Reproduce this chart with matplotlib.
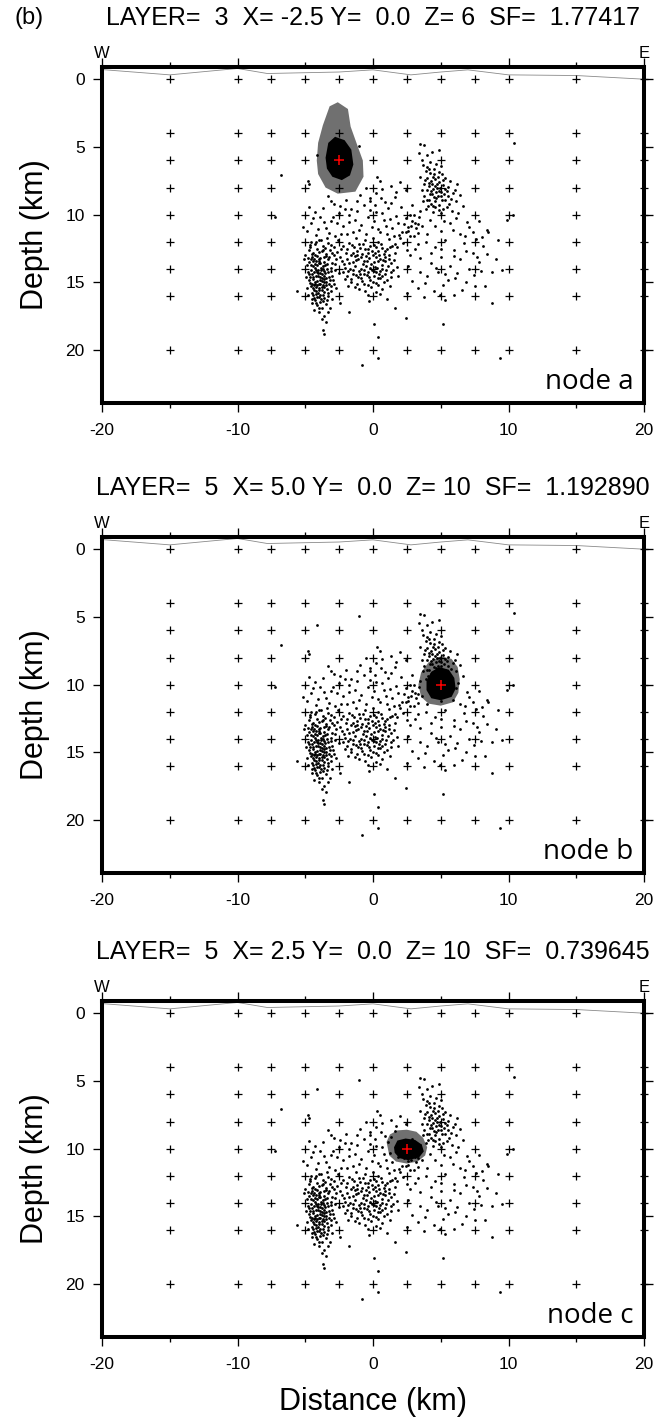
import matplotlib
matplotlib.use('Agg')
import matplotlib.pyplot as plt
import numpy as np

plt.rcParams['font.family'] = ['Liberation Sans', 'DejaVu Sans']
plt.rcParams['axes.unicode_minus'] = False

# grid nodes of the inversion (km along profile, km depth)
grid_x = [-15, -10, -7.5, -5, -2.5, 0, 2.5, 5, 7.5, 10, 15, 20]
grid_z = [0, 4, 6, 8, 10, 12, 14, 16, 20]

# surface topography along the profile (negative = above sea level)
topo_x = [-20, -15, -10, -7.8, -2.5, 0, 2.8, 5, 7, 10, 15, 20]
topo_z = [-0.71, -0.32, -0.79, -0.42, -0.53, -0.69, -0.32, -0.53, -0.69, -0.32, -0.27, 0.0]

# panel parameters
layers = [3, 5, 5]
node_x = [-2.5, 5.0, 2.5]
node_z = [6, 10, 10]
sf_vals = ['1.77417', '1.192890', '0.739645']
node_names = ['node a', 'node b', 'node c']

# spread-function contours (outer = grey, inner = black)
outer_a = [(-2.6, 1.7), (-3.2, 2.0), (-3.7, 3.4), (-4.05, 4.7), (-4.15, 6.0), (-4.05, 7.0),
           (-3.5, 8.0), (-2.6, 8.45), (-1.3, 8.3), (-0.7, 7.2), (-0.75, 6.0), (-1.15, 4.9),
           (-1.65, 3.5), (-1.85, 2.2)]
inner_a = [(-2.8, 4.25), (-3.3, 4.7), (-3.5, 5.8), (-3.4, 6.6), (-3.0, 7.2), (-2.3, 7.45),
           (-1.7, 7.1), (-1.45, 6.3), (-1.6, 5.2), (-2.1, 4.5)]
outer_b = [(5.0, 7.9), (5.8, 8.1), (6.25, 8.7), (6.4, 9.6), (6.3, 10.6), (5.9, 11.3),
           (5.0, 11.55), (4.1, 11.4), (3.55, 10.9), (3.35, 10.0), (3.55, 9.1), (4.1, 8.35)]
inner_b = [(4.9, 8.7), (5.6, 8.9), (6.0, 9.5), (6.1, 10.3), (5.8, 10.9), (5.0, 11.15),
           (4.3, 11.0), (3.95, 10.4), (3.95, 9.7), (4.3, 9.05)]
outer_c = [(1.0, 9.5), (1.25, 8.95), (1.8, 8.65), (2.5, 8.6), (3.2, 8.75), (3.7, 9.2),
           (4.0, 9.9), (3.85, 10.5), (3.3, 10.95), (2.5, 11.1), (1.7, 10.95), (1.2, 10.5)]
inner_c = [(1.55, 9.9), (1.8, 9.4), (2.4, 9.25), (3.1, 9.35), (3.6, 9.7), (3.75, 10.2),
           (3.4, 10.65), (2.6, 10.85), (1.95, 10.7), (1.6, 10.3)]
contours = [(outer_a, inner_a), (outer_b, inner_b), (outer_c, inner_c)]

# relocated hypocentres (x km, depth km)
quakes_west = [
    (-4.6, 12.0), (-4.3, 12.2), (-4.0, 11.9), (-3.7, 12.3), (-3.3, 12.1), (-2.9, 12.4),
    (-4.7, 12.6), (-4.4, 12.8), (-4.1, 12.5), (-3.8, 12.7), (-3.5, 12.9), (-3.2, 12.6), (-2.9, 13.0),
    (-4.8, 13.2), (-4.5, 13.1), (-4.2, 13.4), (-3.9, 13.2), (-3.6, 13.5), (-3.3, 13.3), (-3.0, 13.6),
    (-4.6, 13.7), (-4.3, 13.9), (-4.0, 13.6), (-3.7, 13.8), (-3.4, 14.0), (-3.1, 13.9),
    (-4.8, 14.2), (-4.5, 14.4), (-4.2, 14.1), (-3.9, 14.3), (-3.6, 14.5), (-3.3, 14.2), (-3.0, 14.5),
    (-4.7, 14.8), (-4.4, 14.6), (-4.1, 14.9), (-3.8, 14.7), (-3.5, 15.0), (-3.2, 14.8),
    (-4.6, 15.3), (-4.3, 15.1), (-4.0, 15.4), (-3.7, 15.2), (-3.4, 15.5), (-3.1, 15.3),
    (-4.5, 15.8), (-4.2, 15.6), (-3.9, 15.9), (-3.6, 15.7), (-3.3, 16.0),
    (-4.3, 16.3), (-4.0, 16.1), (-3.7, 16.4), (-4.1, 16.7), (-3.8, 16.9), (-3.5, 16.6),
    (-4.45, 13.45), (-4.15, 13.75), (-3.85, 13.95), (-3.55, 13.75), (-4.35, 14.25), (-4.05, 14.55),
    (-3.75, 14.35), (-3.45, 14.65), (-4.25, 14.95), (-3.95, 15.15), (-3.65, 14.95), (-4.35, 15.55),
    (-4.05, 15.75), (-3.75, 15.55), (-4.15, 16.05), (-3.85, 16.25), (-4.55, 14.05), (-4.65, 15.05),
    (-4.25, 12.95), (-3.95, 12.75), (-3.65, 13.15), (-4.35, 13.25), (-3.45, 13.05), (-4.45, 15.95),
    (-3.35, 15.75), (-4.85, 13.75), (-4.9, 15.4), (-2.8, 14.1), (-2.7, 13.3), (-2.9, 15.1),
    (-3.0, 16.2), (-4.0, 17.2), (-3.6, 17.5), (-4.5, 16.5), (-3.2, 16.9), (-4.05, 14.05),
    (-3.9, 14.85), (-4.2, 15.35), (-3.8, 15.35), (-4.1, 13.05), (-3.6, 14.15), (-4.4, 14.75),
    (-4.62, 12.35), (-4.18, 12.05), (-3.52, 12.45), (-3.08, 12.25), (-4.52, 12.92), (-4.02, 13.28),
    (-3.72, 12.58), (-3.22, 13.12), (-4.72, 13.48), (-3.88, 13.58), (-3.38, 13.62), (-3.12, 14.18),
    (-4.42, 13.82), (-4.08, 14.32), (-3.82, 14.12), (-3.52, 14.32), (-4.62, 14.62), (-4.22, 14.52),
    (-3.92, 14.62), (-3.62, 14.72), (-3.28, 14.58), (-4.52, 15.12), (-4.12, 15.18), (-3.88, 15.08),
    (-3.58, 15.32), (-3.22, 15.12), (-4.42, 15.42), (-4.18, 15.82), (-3.98, 15.58), (-3.68, 15.92),
    (-4.32, 16.12), (-3.92, 16.42), (-4.22, 16.52), (-3.62, 16.18), (-4.72, 14.38), (-4.58, 13.28),
    (-3.02, 12.82), (-2.82, 13.62), (-2.92, 14.82), (-3.12, 15.62), (-4.82, 15.92), (-4.02, 16.92),
    (-3.42, 16.32), (-4.28, 13.62), (-3.68, 14.02), (-4.12, 14.22), (-3.78, 14.92), (-4.38, 15.22),
    (-3.48, 15.22), (-3.98, 13.42), (-4.48, 16.22), (-3.32, 17.22), (-3.78, 17.72), (-4.32, 17.02),
    (-4.68, 12.22), (-2.62, 12.72), (-2.52, 14.32), (-2.72, 15.42), (-4.95, 14.62), (-5.1, 13.3),
]
quakes_central = [
    (-2.2, 12.3), (-1.8, 12.1), (-1.4, 12.4), (-1.0, 12.2), (-0.6, 12.5), (-0.2, 12.3), (0.2, 12.4),
    (0.6, 12.2), (1.0, 12.5), (1.4, 12.3),
    (-2.0, 12.8), (-1.6, 13.0), (-1.2, 12.7), (-0.8, 12.9), (-0.4, 12.8), (0.0, 13.0), (0.4, 12.7),
    (0.8, 12.9), (1.2, 13.0), (1.6, 12.8),
    (-2.3, 13.4), (-1.9, 13.3), (-1.5, 13.5), (-1.1, 13.3), (-0.7, 13.4), (-0.3, 13.2), (0.1, 13.5),
    (0.5, 13.3), (0.9, 13.4), (1.3, 13.6),
    (-2.1, 13.9), (-1.7, 14.0), (-1.3, 13.8), (-0.9, 14.0), (-0.5, 13.8), (-0.1, 14.1), (0.3, 13.9),
    (0.7, 14.0), (1.1, 13.8), (1.5, 14.1),
    (-1.9, 14.5), (-1.5, 14.4), (-1.1, 14.6), (-0.7, 14.4), (-0.3, 14.6), (0.1, 14.5), (0.5, 14.7),
    (0.9, 14.4), (1.3, 14.6),
    (-1.6, 15.0), (-1.2, 15.1), (-0.8, 14.9), (-0.4, 15.2), (0.0, 15.0), (0.4, 15.2), (0.8, 15.0),
    (-0.6, 15.6), (0.2, 15.7), (-1.0, 15.5), (0.7, 15.5),
    (-0.55, 13.05), (-0.15, 13.65), (0.25, 13.15), (0.65, 13.75), (-0.35, 14.25), (0.05, 14.15),
    (0.45, 14.35), (-0.75, 13.65), (-0.95, 14.35), (0.85, 13.15), (-1.35, 13.05), (-1.45, 14.05),
    (0.15, 12.85), (-0.25, 14.85), (0.35, 14.65),
    (-2.35, 12.55), (-1.95, 12.55), (-1.55, 12.25), (-1.15, 12.95), (-0.75, 12.15), (-0.35, 12.55),
    (0.05, 12.25), (0.45, 12.95), (0.85, 12.65), (1.25, 12.35), (1.65, 12.15), (-2.45, 13.15),
    (-2.15, 13.65), (-1.75, 13.55), (-1.25, 13.35), (-0.85, 13.15), (-0.45, 13.45), (0.35, 13.45),
    (0.75, 13.35), (1.15, 13.25), (1.55, 13.35), (-2.25, 14.25), (-1.85, 14.15), (-1.05, 14.15),
    (-0.65, 14.05), (-0.25, 13.95), (0.15, 13.85), (0.55, 14.15), (0.95, 14.05), (1.35, 14.25),
    (1.75, 13.85), (-1.65, 14.75), (-1.25, 14.45), (-0.85, 14.65), (-0.45, 14.45), (0.25, 14.25),
    (0.65, 14.55), (1.05, 14.85), (-1.35, 15.35), (-0.65, 15.15), (-0.15, 15.35), (0.25, 15.05),
    (0.55, 15.85), (-0.35, 15.95), (1.25, 15.25), (-1.85, 15.25), (-2.05, 14.75), (1.85, 14.55),
    (-0.05, 12.65), (-0.95, 12.45), (0.65, 12.45), (-1.45, 12.85),
]
quakes_middle = [
    (-4.9, 11.2), (-4.6, 10.6), (-4.2, 11.5), (-3.9, 10.2), (-3.5, 11.0), (-3.1, 10.5), (-2.8, 11.6),
    (-2.5, 9.9), (-2.2, 10.8), (-1.9, 11.4), (-1.6, 9.6), (-1.3, 10.4), (-1.0, 11.1), (-0.7, 9.3),
    (-0.4, 10.2), (-0.1, 10.9), (0.2, 9.8), (0.5, 11.3), (0.8, 10.4), (1.1, 9.5), (1.4, 11.0),
    (1.7, 10.1), (2.0, 11.7), (2.3, 10.7), (2.6, 11.2), (2.9, 10.5), (3.2, 11.0), (3.4, 10.2),
    (-3.7, 9.5), (-2.9, 9.2), (-0.2, 9.0), (0.9, 9.1), (-4.3, 9.8), (-1.8, 10.0), (0.0, 11.7),
    (-0.6, 11.9), (1.2, 11.8), (-2.6, 11.9), (-3.4, 11.7), (2.7, 10.0), (3.0, 11.6), (2.2, 12.1),
    (1.8, 12.4), (2.5, 12.6), (3.3, 12.2), (-1.2, 9.0), (-2.0, 8.9), (-3.1, 9.0), (0.6, 8.8),
    (1.6, 8.7), (2.8, 10.8), (3.1, 10.6), (2.4, 11.3), (1.9, 11.5), (3.3, 10.7), (2.6, 10.9),
    (-0.5, 8.0), (0.2, 8.4), (0.7, 8.1), (-0.2, 8.8), (0.5, 7.5), (1.3, 7.9), (2.0, 7.6),
    (2.4, 8.2), (1.7, 8.3),
    (-4.45, 10.25), (-4.05, 11.05), (-3.65, 10.55), (-3.25, 11.35), (-2.95, 10.15), (-2.65, 10.65),
    (-2.35, 11.45), (-2.05, 9.55), (-1.75, 10.55), (-1.45, 11.25), (-1.15, 9.75), (-0.85, 10.75),
    (-0.55, 11.45), (-0.25, 9.65), (0.05, 10.45), (0.35, 11.05), (0.65, 9.85), (0.95, 10.85),
    (1.25, 10.35), (1.55, 11.55), (1.85, 10.65), (2.15, 11.25), (2.45, 10.25), (2.75, 11.55),
    (3.05, 10.05), (3.35, 11.35), (-3.85, 11.85), (-1.25, 11.75), (0.35, 12.05), (1.05, 11.45),
    (-2.45, 9.35), (-0.95, 8.55), (0.15, 9.25), (1.35, 9.15), (2.05, 9.45), (2.85, 9.25),
    (-4.75, 9.45), (-3.35, 8.65),
]
quakes_east = [
    (3.5, 4.8), (3.8, 4.85), (3.4, 5.45), (4.0, 5.6), (4.9, 5.2), (4.2, 6.1), (3.7, 6.3),
    (3.9, 6.8), (4.2, 6.9), (4.5, 7.0), (4.8, 7.2), (5.1, 7.0), (4.0, 7.3), (4.3, 7.5), (4.6, 7.4),
    (4.9, 7.6), (5.2, 7.8), (3.8, 7.7), (4.1, 7.9), (4.4, 8.1), (4.7, 8.0), (5.0, 8.3), (5.3, 8.1),
    (4.2, 8.5), (4.5, 8.7), (4.8, 8.6), (5.1, 8.9), (5.5, 8.6), (4.0, 8.9), (4.3, 9.2), (4.6, 9.4),
    (4.9, 9.3), (5.2, 9.6), (5.6, 9.2), (5.9, 8.4), (6.1, 9.0), (5.8, 9.7), (4.5, 6.6), (5.0, 6.4),
    (5.3, 7.3), (3.6, 8.2), (3.7, 9.0), (4.35, 7.75), (4.65, 8.35), (4.95, 8.05), (4.25, 8.25),
    (4.75, 7.75), (5.45, 8.25), (4.55, 9.0), (6.2, 7.7), (5.7, 7.5), (3.9, 9.6), (4.4, 9.8),
    (5.0, 9.9), (6.3, 9.9), (3.5, 9.7),
    (3.62, 5.95), (4.32, 5.35), (3.95, 6.45), (4.65, 6.25), (4.15, 6.65), (4.45, 7.25), (4.85, 6.85),
    (5.15, 7.45), (3.85, 7.45), (4.15, 7.65), (4.55, 7.85), (4.85, 8.25), (5.25, 8.45), (3.95, 8.15),
    (4.35, 8.45), (4.65, 8.75), (5.05, 8.65), (5.35, 8.95), (4.15, 8.95), (4.45, 9.35), (4.85, 9.65),
    (5.45, 9.45), (5.75, 8.85), (6.05, 8.15), (3.75, 8.65), (5.55, 7.95), (4.05, 9.35), (3.45, 7.25),
    (6.45, 8.55), (6.65, 9.35),
    (3.6, 10.8), (4.2, 10.4), (5.0, 11.2), (5.7, 10.6), (6.4, 11.4), (7.1, 10.9), (7.8, 10.5),
    (8.5, 11.3), (3.9, 12.0), (4.6, 12.4), (5.3, 11.9), (6.0, 12.6), (6.7, 12.1), (7.4, 12.8),
    (8.1, 12.3), (3.5, 13.2), (4.3, 13.6), (5.0, 13.1), (5.7, 13.8), (6.4, 13.3), (7.1, 14.0),
    (7.8, 13.5), (4.0, 14.5), (4.8, 14.2), (5.5, 14.8), (6.2, 14.3), (6.9, 15.0), (3.3, 15.4),
    (4.5, 15.6), (5.2, 15.2), (6.0, 15.9), (7.5, 15.3), (8.4, 12.9), (2.6, 13.8), (2.9, 14.9),
    (3.1, 12.5), (5.9, 11.1), (6.8, 11.6), (7.6, 11.8), (8.8, 14.2), (2.5, 15.8), (3.8, 16.1),
    (5.3, 16.3), (8.8, 16.5), (9.2, 11.9), (9.5, 14.1), (10.3, 10.0), (9.9, 10.4), (8.4, 11.1),
    (3.95, 11.45), (4.55, 10.85), (5.25, 10.45), (6.15, 10.25), (6.95, 10.55), (7.35, 11.25),
    (8.05, 11.65), (4.25, 12.85), (5.05, 12.55), (5.95, 13.05), (6.85, 12.65), (7.65, 13.15),
    (4.65, 13.95), (5.35, 14.35), (6.05, 14.65), (7.45, 14.45), (3.85, 15.05), (4.95, 15.95),
    (6.55, 15.55), (8.25, 15.25), (7.95, 14.15), (3.45, 14.25), (2.75, 12.95), (9.05, 13.25),
]
quakes_outliers = [
    (-6.8, 7.1), (-4.8, 7.5), (-4.7, 7.75), (-4.15, 5.6), (-1.0, 4.9), (0.3, 7.2), (-7.2, 10.2),
    (-5.6, 15.6), (-5.2, 10.9), (-5.0, 13.0), (-3.7, 18.5), (-3.6, 18.8), (-3.5, 17.9), (0.1, 18.1),
    (0.4, 19.0), (-0.8, 21.1), (0.4, 20.6), (2.4, 17.6), (1.6, 16.9), (5.2, 18.1), (9.4, 20.6),
    (10.4, 4.7), (-2.4, 16.5), (-1.8, 17.2), (1.0, 16.2), (-0.3, 16.4),
]
quakes = quakes_west + quakes_central + quakes_middle + quakes_east + quakes_outliers
quake_x = [q[0] for q in quakes]
quake_z = [q[1] for q in quakes]

W, H = 654, 1426
fig = plt.figure(figsize=(W / 100, H / 100), dpi=100)
fig.patch.set_facecolor('white')

ax_left, ax_width, ax_height = 102, 542, 336
panel_tops = [67, 537, 1001]

gx, gz = np.meshgrid(grid_x, grid_z)

for i, top in enumerate(panel_tops):
    ax = fig.add_axes([ax_left / W, 1 - (top + ax_height) / H, ax_width / W, ax_height / H])
    ax.set_xlim(-20, 20)
    ax.set_ylim(23.9, -0.9)

    outer, inner = contours[i]
    ax.fill([p[0] for p in outer], [p[1] for p in outer], color='#707070', lw=0, zorder=1)
    ax.fill([p[0] for p in inner], [p[1] for p in inner], color='black', lw=0, zorder=1.5)

    ax.plot(topo_x, topo_z, color='#8a8a8a', lw=0.6, zorder=2)
    ax.plot(quake_x, quake_z, 'o', ms=2.0, mew=0, color='black', zorder=2)
    ax.plot(gx.ravel(), gz.ravel(), '+', ms=5.5, mew=0.9, color='black', clip_on=False, zorder=3)
    ax.plot(node_x[i], node_z[i], '+', ms=6.5, mew=1.1, color='red', zorder=4)

    ax.set_xticks([-20, -10, 0, 10, 20])
    ax.set_xticks([-15, -5, 5, 15], minor=True)
    ax.set_yticks([0, 5, 10, 15, 20])
    ax.tick_params(which='both', direction='out', top=True, right=True,
                   labeltop=False, labelright=False, width=0.95, labelsize=12.5)
    ax.tick_params(which='major', length=6.5)
    ax.tick_params(which='minor', length=3.5)
    ax.tick_params(axis='x', pad=8)
    ax.tick_params(axis='y', pad=6)
    for sp in ax.spines.values():
        sp.set_linewidth(2.9)

    ax.text(19.2, 22.9, node_names[i], ha='right', va='baseline',
            family='Open Sans', fontsize=20)

    title = f"LAYER=  {layers[i]}  X= {node_x[i]:.1f} Y=  0.0  Z= {node_z[i]}  SF=  {sf_vals[i]}"
    fig.text(373 / W, 1 - (top - 49) / H, title, ha='center', va='center', fontsize=18)
    fig.text(ax_left / W, 1 - (top - 13) / H, 'W', ha='center', va='center', fontsize=12)
    fig.text((ax_left + ax_width) / W, 1 - (top - 13) / H, 'E', ha='center', va='center', fontsize=12)
    fig.text(35 / W, 1 - (top + ax_height / 2) / H, 'Depth (km)', rotation=90,
             ha='center', va='center', fontsize=22)

fig.text(14 / W, 1 - 18 / H, '(b)', ha='left', va='center', fontsize=17)
fig.text(373 / W, 1 - 1402 / H, 'Distance (km)', ha='center', va='center', fontsize=22)

fig.savefig('out.png', dpi=100, facecolor='white')
